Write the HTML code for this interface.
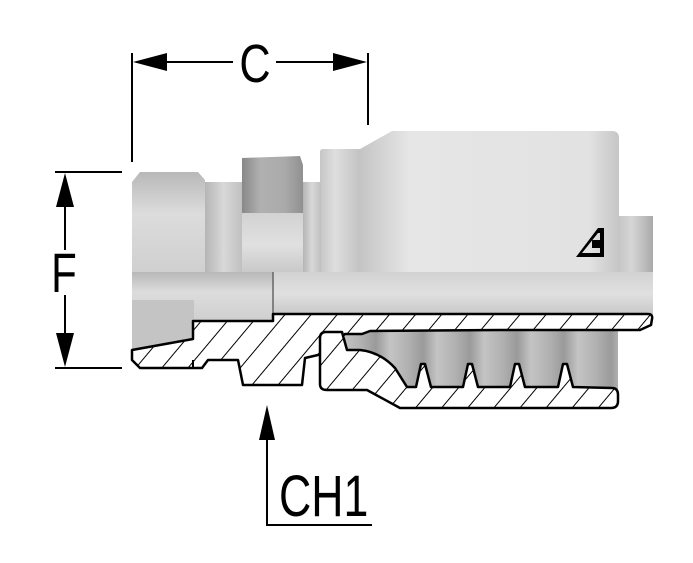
<!DOCTYPE html>
<html><head><meta charset="utf-8"><style>
html,body{margin:0;padding:0;background:#fff;}
svg{display:block;}
text{font-family:"Liberation Sans",sans-serif;fill:#000;}
</style></head><body>
<svg width="693" height="563" viewBox="0 0 693 563" xmlns="http://www.w3.org/2000/svg">
<defs>
<pattern id="h" patternUnits="userSpaceOnUse" width="20" height="20" patternTransform="rotate(40)">
<rect width="20" height="20" fill="#fff"/><line x1="0" y1="0" x2="0" y2="20" stroke="#000" stroke-width="2"/>
</pattern>
<linearGradient id="gv" x1="0" y1="0" x2="0" y2="1">
<stop offset="0" stop-color="#b8b8b8"/><stop offset="0.4" stop-color="#dcdcdc"/><stop offset="1" stop-color="#cfcfcf"/>
</linearGradient>
<linearGradient id="gf" x1="0" y1="0" x2="1" y2="0">
<stop offset="0" stop-color="#c6c6c6"/><stop offset="0.05" stop-color="#dedede"/><stop offset="0.13" stop-color="#c4c4c4"/><stop offset="0.3" stop-color="#e6e6e6"/><stop offset="0.9" stop-color="#e2e2e2"/><stop offset="1" stop-color="#c6c6c6"/>
</linearGradient>
<linearGradient id="gb" x1="0" y1="0" x2="0" y2="1">
<stop offset="0" stop-color="#d2d2d2"/><stop offset="0.5" stop-color="#e0e0e0"/><stop offset="1" stop-color="#c6c6c6"/>
</linearGradient>
<linearGradient id="gn" x1="0" y1="0" x2="1" y2="0">
<stop offset="0" stop-color="#b5b5b5"/><stop offset="0.5" stop-color="#d8d8d8"/><stop offset="1" stop-color="#c0c0c0"/>
</linearGradient>
<linearGradient id="gh" x1="0" y1="0" x2="1" y2="0">
<stop offset="0" stop-color="#888"/><stop offset="0.3" stop-color="#b0b0b0"/><stop offset="0.7" stop-color="#aaa"/><stop offset="1" stop-color="#909090"/>
</linearGradient>
<linearGradient id="ghose" x1="0" y1="0" x2="1" y2="0">
<stop offset="0" stop-color="#bbb"/><stop offset="0.5" stop-color="#d6d6d6"/><stop offset="1" stop-color="#aaa"/>
</linearGradient>
<linearGradient id="gin" x1="423" y1="0" x2="470" y2="0" spreadMethod="repeat" gradientUnits="userSpaceOnUse">
<stop offset="0" stop-color="#9a9a9a"/><stop offset="0.3" stop-color="#c4c4c4"/><stop offset="0.7" stop-color="#b0b0b0"/><stop offset="1" stop-color="#9a9a9a"/>
</linearGradient>
</defs>

<g stroke="#000" stroke-width="2" fill="none">
<line x1="132" y1="53" x2="132" y2="162"/>
<line x1="368" y1="53" x2="368" y2="125"/>
<line x1="150" y1="62" x2="233" y2="62"/>
<line x1="276" y1="62" x2="350" y2="62"/>
<line x1="55" y1="172" x2="122" y2="172"/>
<line x1="55" y1="368" x2="122" y2="368"/>
<line x1="65" y1="190" x2="65" y2="250"/>
<line x1="65" y1="295" x2="65" y2="350"/>
<line x1="267" y1="430" x2="267" y2="525"/>
<line x1="266" y1="525" x2="372" y2="525"/>
</g>
<g fill="#000">
<polygon points="133,62 167,53 167,71"/>
<polygon points="367,62 333,53 333,71"/>
<polygon points="65,173 56,207 74,207"/>
<polygon points="65,367 56,333 74,333"/>
<polygon points="267,405 259,440 275,440"/>
</g>
<text x="255" y="82" font-size="54" text-anchor="middle" transform="translate(255 0) scale(0.8 1) translate(-255 0)">C</text>
<text x="64" y="292" font-size="56" text-anchor="middle" transform="translate(64 0) scale(0.75 1) translate(-64 0)">F</text>
<text x="279" y="516" font-size="58" transform="translate(279 0) scale(0.77 1) translate(-279 0)">CH1</text>

<rect x="610" y="216" width="43" height="60" fill="url(#ghose)"/>
<path d="M320,152 Q320,149 323,149 L360,149 L392,131 L612,131 Q619,131 619,138 L619,276 L320,276 Z" fill="url(#gf)"/>
<rect x="303" y="182" width="18" height="94" fill="url(#gn)"/>
<rect x="205" y="182" width="37" height="94" fill="url(#gn)"/>
<path d="M242,158 L300,156 L303,165 L303,213 L242,213 Z" fill="url(#gh)"/>
<rect x="242" y="213" width="61" height="63" fill="url(#gb)"/>
<path d="M132,182 L140,172 L198,172 L205,180 L205,276 L132,276 Z" fill="url(#gv)"/>
<!-- logo -->
<path d="M576,257 L598,228 L604,228 L604,257 Z M582,253 L598,233 L600,233 L600,240 L592,240 L592,248 L600,248 L600,253 Z" fill="#000" fill-rule="evenodd"/>
<rect x="132" y="272" width="521" height="44" fill="url(#gb)"/>
<rect x="132" y="272" width="141" height="50" fill="url(#gv)"/>
<rect x="132" y="300" width="62" height="50" fill="#c4c4c4"/>
<line x1="273" y1="272" x2="273" y2="316" stroke="#666" stroke-width="1.5"/>

<rect x="345" y="330" width="273" height="60" fill="url(#gin)"/>

<path d="M132,350 L193,339 L193,321 L273,321 L273,314 L648,314 Q653,314 652,319 L651,325 L640,330 L500,330 L370,331 L362,334 L345,334 L318,355 L305,358 L302,385 L243,385 L238,360 L208,360 L202,368 L140,368 L132,360 Z" fill="url(#h)" stroke="#000" stroke-width="2.5" stroke-linejoin="round"/>
<line x1="193" y1="360" x2="193" y2="368" stroke="#000" stroke-width="2"/>
<path d="M320,338 Q320,332 326,332 L342,332 L347,350 L360,350 Q380,352 395,368 L407,387 L416,387 L421,364 L425,364 L431,387 L463,387 L468,364 L472,364 L478,387 L510,387 L515,364 L519,364 L525,387 L558,387 L563,364 L567,364 L573,387 L612,388 Q618,388 618,395 L618,401 Q618,408 611,408 L400,408 L367,390 L327,390 Q320,390 320,384 Z" fill="url(#h)" stroke="#000" stroke-width="2.5" stroke-linejoin="round"/>
</svg>
</body></html>
